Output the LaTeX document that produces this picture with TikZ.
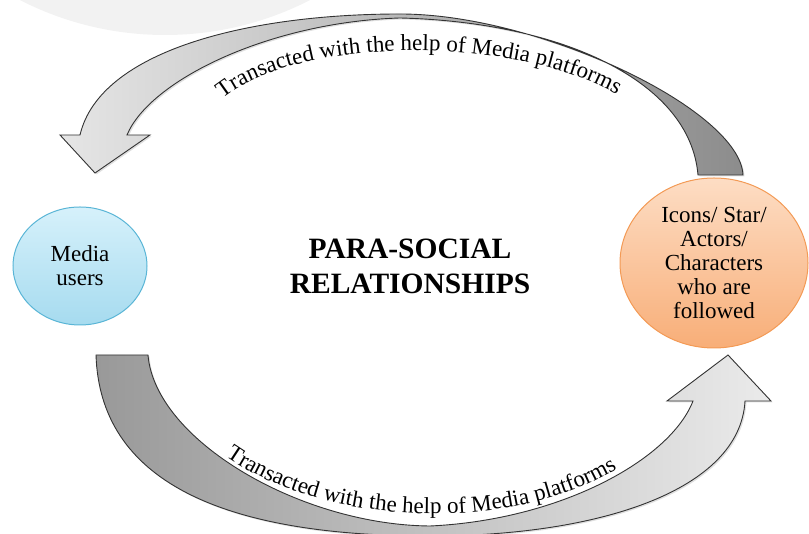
\documentclass[tikz,border=0pt]{standalone}
\usepackage{fontspec}
\setmainfont{Liberation Serif}
\usepackage{tikz}
\usetikzlibrary{shapes.geometric}
\usetikzlibrary{decorations.text}
\usetikzlibrary{shadows}
\definecolor{usertop}{HTML}{D6F1FB}
\definecolor{userbottom}{HTML}{A6DBEF}
\definecolor{userline}{HTML}{59B5D6}
\definecolor{startop}{HTML}{FDDDC4}
\definecolor{starbottom}{HTML}{F8AE78}
\definecolor{starline}{HTML}{F39A55}
\newcommand\arcfont{\fontsize{23}{28}\selectfont}
\tikzset{blockarrow/.style={draw=black!80,
                        line width=0.9pt,
                        line join=miter,
                        drop shadow={shadow xshift=1.5pt, shadow yshift=-1.5pt, opacity=.25}
                        },
        bubble/.style={ellipse,
                        line width=1pt,
                        inner sep=0pt,
                        align=center,
                        font=\fontsize{23}{24}\selectfont
        },
        arclabel/.style={decorate,
                        decoration={text along path,
                                    text align=center,
                                    text format delimiters={|}{|}}
        },
}

\begin{document}
\begin{tikzpicture}
    [x=1pt,y=1pt]

    \useasboundingbox (0,0) rectangle (809,534);
    \clip (0,0) rectangle (809,534);

    % faint disc in the top corner
    \fill[black!5] (165,817) circle (318);

    % UPPER ARROW (right to left)
    \path[blockarrow, left color=black!10, right color=black!45]
        (743,359) .. controls (740,424) and (540,520) .. (400,520)
                  .. controls (250,520) and (100,484) .. (80,399)
        -- (60,399) -- (95,361) -- (150,399) -- (127,399)
                  .. controls (150,454) and (270,512) .. (400,516)
                  .. controls (560,512) and (690,454) .. (698,359)
        -- cycle;

    % LOWER ARROW (left to right)
    \path[blockarrow, left color=black!40, right color=black!8]
        (96,179) .. controls (100,54) and (220,-2) .. (430,-2)
                 .. controls (600,-2) and (740,44) .. (745,133)
        -- (771,133) -- (728,179) -- (667,133) -- (693,133)
                 .. controls (670,74) and (560,14) .. (430,8)
                 .. controls (300,9) and (155,94) .. (148,179)
        -- cycle;

    % labels along the arrows
    \path[arclabel, decoration={text={|\arcfont|Transacted with the help of Media platforms}}]
        (217,431) .. controls (292,500) and (520,500) .. (623,436);
    \path[arclabel, decoration={text={|\arcfont|Transacted with the help of Media platforms}}]
        (217,84) .. controls (320,4) and (520,-1) .. (626,71);

    % the two parties
    \node[bubble, draw=userline, top color=usertop, bottom color=userbottom,
          minimum width=134, minimum height=118] (users) at (80,268) {Media\\users};

    \node[bubble, draw=starline, top color=startop, bottom color=starbottom,
          minimum width=188, minimum height=170] (icons) at (714,271)
          {Icons/ Star/\\Actors/\\Characters\\who are\\followed};

    \node[align=center, font=\fontsize{29.5}{35}\selectfont\bfseries] (title) at (410,268)
          {PARA-SOCIAL\\RELATIONSHIPS};

\end{tikzpicture}
\end{document}
